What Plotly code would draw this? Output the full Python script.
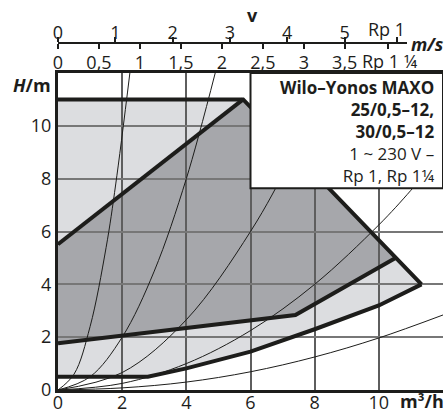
import plotly.graph_objects as go

# flow Q in m3/h, head H in m
max_q = [0, 5.77, 11.33]
max_h = [11, 11, 4.0]
min_q = [0, 2.8, 4, 6, 8, 10, 11.33]
min_h = [0.5, 0.5, 0.82, 1.45, 2.3, 3.2, 4.0]
var_top_q = [0, 5.77]
var_top_h = [5.52, 11]
var_low_q = [0, 7.4, 10.52]
var_low_h = [1.77, 2.84, 5.0]

# system curves (thin)
sys_curves = [
    ([0, 0.5, 1.0, 1.5, 1.8, 2.24], [0, 0.6, 2.4, 5.4, 7.8, 12.0]),
    ([0, 1, 2, 3, 4, 4.9], [0, 0.5, 2.0, 4.5, 8.0, 12.0]),
    ([0, 2, 4, 6, 7.3, 8.5], [0, 0.66, 2.66, 6.0, 8.85, 12.0]),
    ([0, 2, 4, 6, 8, 10, 11, 12], [0, 0.25, 1.0, 2.25, 4.0, 6.25, 7.56, 9.0]),
    ([0, 2, 4, 6, 8, 10, 12], [0, 0.08, 0.3, 0.69, 1.25, 1.97, 2.84]),
]

# velocity scales on top
v_rp1 = [0, 1, 2, 3, 4, 5, 5.91]
v_rp1_txt = ['0', '1', '2', '3', '4', '5', '']
v_rp114 = [0, 0.5, 1, 1.5, 2, 2.5, 3, 3.5, 4.03]
v_rp114_txt = ['0', '0,5', '1', '1,5', '2', '2,5', '3', '3,5', '']

q_ticks = [0, 2, 4, 6, 8, 10, 12]
q_txt = ['0', '2', '4', '6', '8', '10', '']
h_ticks = [0, 2, 4, 6, 8, 10, 12]
h_txt = ['0', '2', '4', '6', '8', '10', '']

FONT = 'Open Sans'
BLACK = '#1d1d1b'


def path(xs, ys):
    pts = ['%s,%s' % (x, y) for x, y in zip(xs, ys)]
    return 'M ' + ' L '.join(pts) + ' Z'


light_x = max_q + min_q[::-1]
light_y = max_h + min_h[::-1]
dark_x = var_low_q + [max_q[1]] + var_top_q[::-1]
dark_y = var_low_h + [max_h[1]] + var_top_h[::-1]

fig = go.Figure()

for q, h in sys_curves:
    fig.add_trace(go.Scatter(x=q, y=h, mode='lines', line=dict(color=BLACK, width=1, shape='spline'),
                             hoverinfo='skip', showlegend=False))

for q, h in [(max_q, max_h), (min_q, min_h), (var_top_q, var_top_h), (var_low_q, var_low_h)]:
    fig.add_trace(go.Scatter(x=q, y=h, mode='lines', line=dict(color=BLACK, width=4),
                             hoverinfo='skip', showlegend=False))

# dummy traces so the velocity axes get drawn
fig.add_trace(go.Scatter(x=[0, 6.09], y=[0, 0], xaxis='x2', yaxis='y2', mode='lines',
                         line=dict(width=0), hoverinfo='skip', showlegend=False))
fig.add_trace(go.Scatter(x=[0, 4.26], y=[0, 0], xaxis='x3', yaxis='y2', mode='lines',
                         line=dict(width=0), hoverinfo='skip', showlegend=False))

fig.add_shape(type='path', path=path(light_x, light_y), xref='x', yref='y',
              fillcolor='#dcdde0', line=dict(width=0), layer='below')
fig.add_shape(type='path', path=path(dark_x, dark_y), xref='x', yref='y',
              fillcolor='#a6a7ab', line=dict(width=0), layer='below')

# info box
fig.add_shape(type='rect', x0=6, x1=12, y0=7.64, y1=12, xref='x', yref='y',
              fillcolor='white', line=dict(color=BLACK, width=2), layer='above')
fig.add_annotation(
    text='<b>Wilo–Yonos MAXO<br>25/0,5–12,<br>30/0,5–12</b><br>1 ~ 230 V –<br>Rp 1, Rp 1¼',
    xref='paper', yref='paper', x=0.9844, y=0.8316, xanchor='right', yanchor='top',
    align='right', showarrow=False, font=dict(size=17, color=BLACK, family=FONT))

labels = [
    ('<b>v</b>', 0.504, 0.987, 'center'),
    ('<b><i>m/s</i></b>', 0.9117, 0.9105, 'left'),
    ('Rp 1', 0.9065, 0.95, 'right'),
    ('Rp 1 ¼', 0.7844, 0.866, 'left'),
    ('<b><i>H</i>/m</b>', -0.013, 0.8026, 'right'),
    ('<b>m³/h</b>', 1.0078, -0.029, 'right'),
]
for txt, x, y, xa in labels:
    fig.add_annotation(text=txt, xref='paper', yref='paper', x=x, y=y, xanchor=xa,
                       yanchor='middle', showarrow=False,
                       font=dict(size=18, color=BLACK, family=FONT))

fig.update_layout(
    width=446, height=410,
    margin=dict(l=58, r=3, t=10, b=20),
    paper_bgcolor='white', plot_bgcolor='rgba(0,0,0,0)',
    font=dict(family=FONT, size=18, color=BLACK),
    xaxis=dict(range=[0, 12], tickvals=q_ticks, ticktext=q_txt, showgrid=True,
               gridcolor='#5e5e5e', gridwidth=1.5, showline=True, linecolor=BLACK,
               linewidth=3, mirror=True, zeroline=False, ticks='', automargin=False,
               ticklabelstandoff=-6),
    yaxis=dict(range=[0, 12], domain=[0, 0.8342], tickvals=h_ticks, ticktext=h_txt,
               showgrid=True, gridcolor='#777777', gridwidth=2, showline=True,
               linecolor=BLACK, linewidth=3, zeroline=False, ticks='', automargin=False),
    xaxis2=dict(range=[0, 6.09], domain=[0, 0.9065], anchor='free', position=0.9132,
                side='top', tickvals=v_rp1, ticktext=v_rp1_txt, ticks='outside',
                ticklen=5, tickwidth=1.5, tickcolor=BLACK, showline=True,
                linecolor=BLACK, linewidth=2, showgrid=False, zeroline=False,
                automargin=False, ticklabelstandoff=-9),
    xaxis3=dict(range=[0, 4.26], domain=[0, 0.9065], anchor='free', position=0.9132,
                side='bottom', tickvals=v_rp114, ticktext=v_rp114_txt, ticks='outside',
                ticklen=5, tickwidth=1.5, tickcolor=BLACK, showline=True,
                linecolor=BLACK, linewidth=2, showgrid=False, zeroline=False,
                automargin=False, ticklabelstandoff=-2),
    yaxis2=dict(range=[0, 1], domain=[0.84, 1], anchor='x2', visible=False,
                automargin=False),
)

# drop the default page margin so the figure fills the window
fig.write_html("out.html", config={'displayModeBar': False},
               post_script="document.body.style.margin='0';")
